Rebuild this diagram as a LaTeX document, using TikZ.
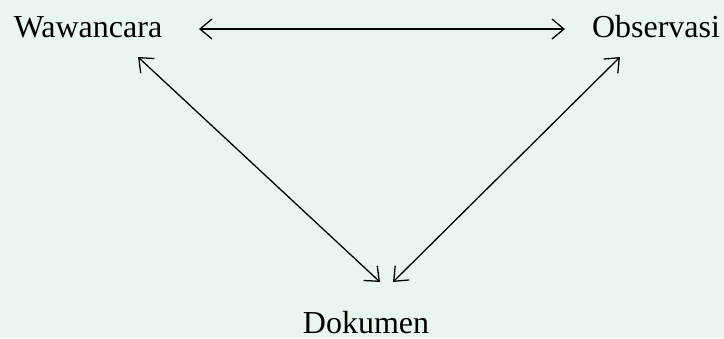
\documentclass[tikz,border=0pt]{standalone}
\usepackage{fontspec}
\setmainfont{Liberation Serif}
\usetikzlibrary{arrows.meta}
\definecolor{bgmint}{RGB}{233,246,239}
\tikzset{
  lbl/.style={font=\fontsize{32}{36}\selectfont, inner sep=0pt, anchor=base},
  link/.style={line width=1.3pt, {Straight Barb[length=12pt,width=20pt,line width=1.3pt]}-{Straight Barb[length=12pt,width=20pt,line width=1.3pt]}}
}
\begin{document}
\begin{tikzpicture}[x=1pt,y=-1pt]
\fill[bgmint] (0,0) rectangle (724,338);
\useasboundingbox (0,0) rectangle (724,338);
\node[lbl] (waw) at (88,37) {Wawancara};
\node[lbl] (obs) at (656,37) {Observasi};
\node[lbl] (dok) at (366,333) {Dokumen};
\coordinate (wr) at (199,29);
\coordinate (ol) at (565,29);
\coordinate (wd) at (138,57);
\coordinate (od) at (620,57);
\coordinate (dl) at (380,282);
\coordinate (dr) at (393,282);
\draw[link] (wr) -- (ol);
\draw[link] (wd) -- (dl);
\draw[link] (od) -- (dr);
\end{tikzpicture}
\end{document}
